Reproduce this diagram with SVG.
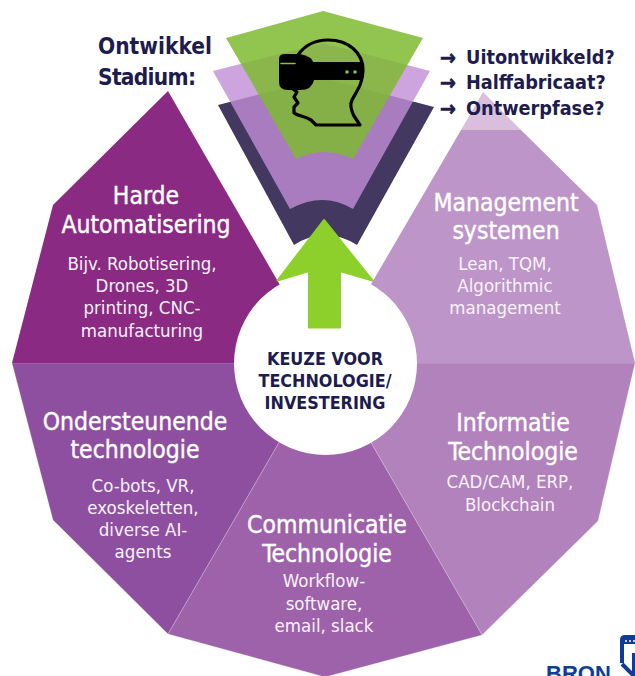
<svg xmlns="http://www.w3.org/2000/svg" width="635" height="676" viewBox="0 0 635 676">
<style>
text{font-family:"DejaVu Sans","Liberation Sans",sans-serif;font-stretch:condensed;text-anchor:middle}
.w{fill:#fff}
.t{font-size:24.5px;stroke:#fff;stroke-width:.4px}
.s{font-size:18.500px;fill:#f8f2f9}
.n{fill:#201b4e;font-weight:700}
.c{font-size:17.800px}
.h{font-size:22.500px;text-anchor:start}
.l{font-size:19.700px;text-anchor:start}
.a{font-size:21px;stroke:#201b4e;stroke-width:.7px}
.seg{stroke:#fff;stroke-opacity:.3;stroke-width:.7}
</style>
<rect width="635" height="676" fill="#fff"/>
<g id="segment-informatie"><polygon class="seg" points="325,363 635,363 598,521 482,635" fill="#b182bb"/></g>
<g id="segment-communicatie"><polygon class="seg" points="325,363 482,635 325,677 168,634" fill="#9e62ab"/></g>
<g id="segment-ondersteunende"><polygon class="seg" points="325,363 168,634 53,520 12,363" fill="#8f4fa0"/></g>
<g id="segment-harde"><polygon points="325,363 12,363 53,205 168,91" fill="#8a2a83"/></g>
<g id="segment-management"><polygon points="325,363 461,130 521,130 597,205 635,363" fill="#bd95c8"/><polygon points="461,130 483,92 521,130" fill="#d9bfdd"/></g>
<g id="stadium-fan">
<path d="M218,105 L323,78 L434,107 L357,245 Q325,225 294,245 Z" fill="#433860"/>
<path d="M213,71 L323,43 L430,71 L353,209 Q323,191 290,209 Z" fill="#c28dd7" fill-opacity=".8"/>
<path d="M226,38 L323,11 L423,38 L353,159 Q324,145 296,159 Z" fill="#7fba31" fill-opacity=".85"/>
</g>
<g id="vr-head">
<path d="M298,55 C305,45 316,40 328,40 C350,40 363,54 363,70 C363,84 356,92 352,100 C349,106 352,112 354,116 L360,125 L316,125 L311,120 C304,116 298,116 294,113 L294,107 L298,103 L294,97 L297,92 L290,87" fill="none" stroke="#000" stroke-width="3.200" stroke-linejoin="round"/>
<path d="M279,59 Q279,54 285,54 L300,54 Q312,56 314,64 L314,80 Q312,90 300,90 L288,90 Q279,90 279,82 Z" fill="#000"/>
<rect x="312" y="62" width="51" height="18" fill="#000"/>
<path d="M281,63.500 H295" stroke="#8fbc4c" stroke-width="1.600" stroke-linecap="round"/>
<circle cx="347" cy="72" r="1.800" fill="#8fbc4c"/><circle cx="355" cy="72" r="1.800" fill="#8fbc4c"/>
</g>
<g id="center"><circle cx="325.500" cy="363.500" r="91.500" fill="#fff"/></g>
<g id="connectors"><path d="M324,220 L372.500,280.500 L340,271 V327.500 H309 V271 L277.500,280.500 Z" fill="#8dd02b" stroke="#8dd02b" stroke-width="2" stroke-linejoin="round"/></g>
<g id="center-label">
<text class="n c" x="325" y="365">KEUZE VOOR</text>
<text class="n c" x="325" y="387">TECHNOLOGIE/</text>
<text class="n c" x="325" y="409">INVESTERING</text>
</g>
<g id="label-harde">
<text class="w t" x="146" y="204">Harde</text><text class="w t" x="146" y="233">Automatisering</text>
<text class="s" x="142" y="270">Bijv. Robotisering,</text><text class="s" x="142" y="292">Drones, 3D</text><text class="s" x="142" y="314">printing, CNC-</text><text class="s" x="142" y="337">manufacturing</text>
</g>
<g id="label-management">
<text class="w t" x="506" y="211">Management</text><text class="w t" x="506" y="239">systemen</text>
<text class="s" x="505" y="270">Lean, TQM,</text><text class="s" x="505" y="292">Algorithmic</text><text class="s" x="505" y="314">management</text>
</g>
<g id="label-ondersteunende">
<text class="w t" x="135" y="430">Ondersteunende</text><text class="w t" x="135" y="458">technologie</text>
<text class="s" x="143" y="492">Co-bots, VR,</text><text class="s" x="143" y="514">exoskeletten,</text><text class="s" x="143" y="536">diverse AI-</text><text class="s" x="143" y="558">agents</text>
</g>
<g id="label-informatie">
<text class="w t" x="513" y="431">Informatie</text><text class="w t" x="513" y="460">Technologie</text>
<text class="s" x="510" y="488">CAD/CAM, ERP,</text><text class="s" x="510" y="511">Blockchain</text>
</g>
<g id="label-communicatie">
<text class="w t" x="327" y="533">Communicatie</text><text class="w t" x="327" y="562">Technologie</text>
<text class="s" x="324" y="587">Workflow-</text><text class="s" x="324" y="610">software,</text><text class="s" x="324" y="632">email, slack</text>
</g>
<g id="stadium-label">
<text class="n h" x="98" y="54">Ontwikkel</text>
<text class="n h" x="98" y="85" textLength="98">Stadium:</text>
<text class="n l" x="440" y="65"><tspan class="a">→</tspan><tspan x="466" y="64">Uitontwikkeld?</tspan></text>
<text class="n l" x="440" y="90"><tspan class="a">→</tspan><tspan x="466" y="89">Halffabricaat?</tspan></text>
<text class="n l" x="440" y="116"><tspan class="a">→</tspan><tspan x="466" y="115">Ontwerpfase?</tspan></text>
</g>
<g id="bron-logo">
<text x="546" y="681" style="font-family:'Liberation Sans',Arial,sans-serif;font-stretch:normal;font-size:22px;font-weight:700;text-anchor:start" fill="#0f3c9b">BRON</text>
<path d="M622,663 V640 Q622,637 625,637 H637" fill="none" stroke="#0f3c9b" stroke-width="4"/>
<rect x="624" y="639" width="12" height="5" fill="#0f3c9b"/>
<circle cx="626" cy="641" r="1" fill="#fff"/><circle cx="630" cy="641" r="1" fill="#fff"/><circle cx="634" cy="641" r="1" fill="#fff"/>
<path d="M634,653 V676 M622,664 L633,675" fill="none" stroke="#0f3c9b" stroke-width="4"/>
</g>
</svg>
